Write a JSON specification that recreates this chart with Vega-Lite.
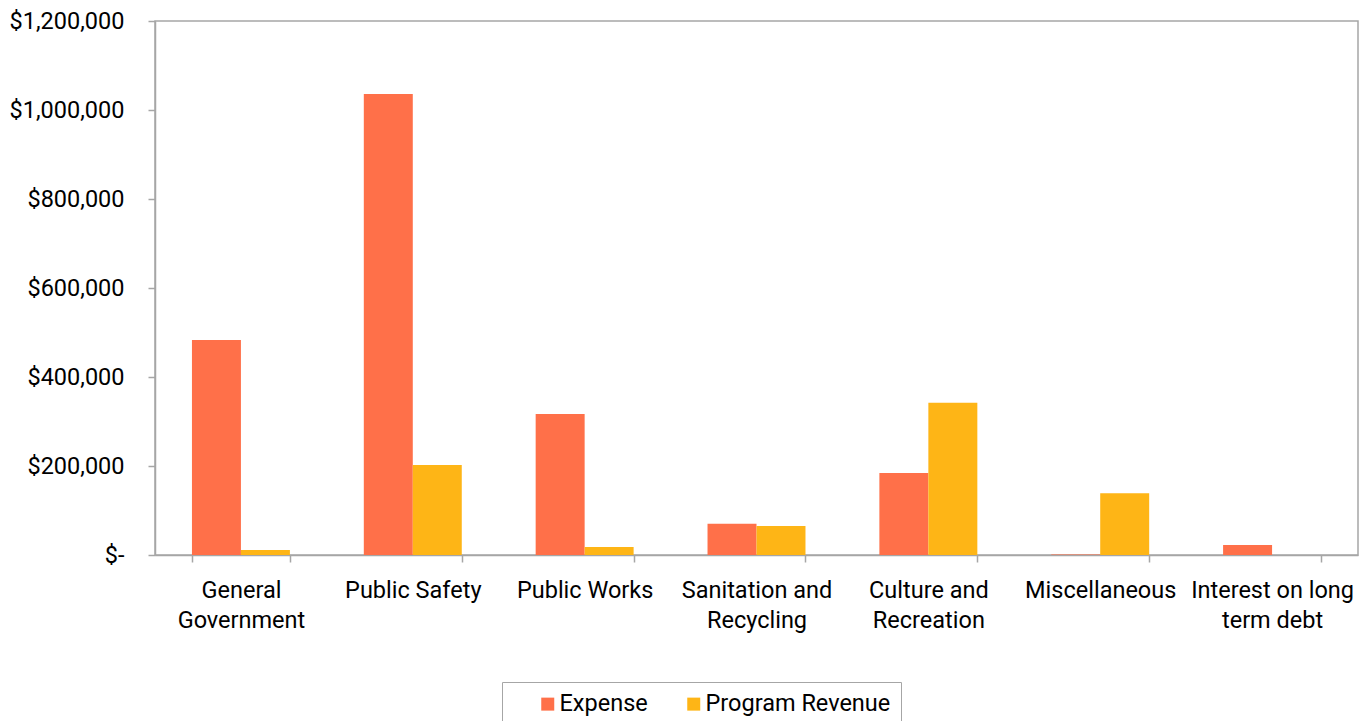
{
  "$schema": "https://vega.github.io/schema/vega-lite/v6.json",
  "width": 1203,
  "height": 534,
  "padding": {"left": 9, "top": 9, "right": 15, "bottom": 0},
  "background": "white",
  "config": {
    "font": "Roboto",
    "view": {"stroke": "#A6A6A6", "strokeWidth": 1.5}
  },
  "data": {
    "values": [
      {"category": "General|Government", "series": "Expense", "amount": 483000},
      {"category": "General|Government", "series": "Program Revenue", "amount": 11000},
      {"category": "Public Safety", "series": "Expense", "amount": 1036000},
      {"category": "Public Safety", "series": "Program Revenue", "amount": 202000},
      {"category": "Public Works", "series": "Expense", "amount": 317000},
      {"category": "Public Works", "series": "Program Revenue", "amount": 18000},
      {"category": "Sanitation and|Recycling", "series": "Expense", "amount": 70000},
      {"category": "Sanitation and|Recycling", "series": "Program Revenue", "amount": 65000},
      {"category": "Culture and|Recreation", "series": "Expense", "amount": 184000},
      {"category": "Culture and|Recreation", "series": "Program Revenue", "amount": 342000},
      {"category": "Miscellaneous", "series": "Expense", "amount": 1000},
      {"category": "Miscellaneous", "series": "Program Revenue", "amount": 139000},
      {"category": "Interest on long|term debt", "series": "Expense", "amount": 22500},
      {"category": "Interest on long|term debt", "series": "Program Revenue", "amount": 0}
    ]
  },
  "mark": {"type": "bar"},
  "encoding": {
    "x": {
      "field": "category",
      "type": "nominal",
      "sort": null,
      "scale": {"paddingInner": 0.43, "paddingOuter": 0.215},
      "axis": {
        "title": null,
        "labelAngle": 0,
        "labelExpr": "split(datum.label, '|')",
        "labelFontSize": 23.5,
        "labelColor": "#000000",
        "labelLineHeight": 30,
        "labelLimit": 300,
        "labelPadding": 16,
        "tickBand": "extent",
        "tickSize": 7,
        "tickWidth": 1.5,
        "tickColor": "#A6A6A6",
        "domainColor": "#A6A6A6",
        "domainWidth": 1.5,
        "grid": false
      }
    },
    "xOffset": {"field": "series", "type": "nominal", "sort": ["Expense", "Program Revenue"]},
    "y": {
      "field": "amount",
      "type": "quantitative",
      "scale": {"domain": [0, 1200000], "nice": false},
      "axis": {
        "title": null,
        "values": [0, 200000, 400000, 600000, 800000, 1000000, 1200000],
        "labelExpr": "datum.value == 0 ? '$-' : '$' + format(datum.value, ',')",
        "labelFontSize": 23.5,
        "labelColor": "#000000",
        "labelPadding": 24,
        "tickSize": 7,
        "tickWidth": 1.5,
        "tickColor": "#A6A6A6",
        "domainColor": "#A6A6A6",
        "domainWidth": 1.5,
        "grid": false
      }
    },
    "color": {
      "field": "series",
      "type": "nominal",
      "scale": {"domain": ["Expense", "Program Revenue"], "range": ["#FF7049", "#FEB516"]},
      "legend": {
        "title": null,
        "orient": "none",
        "legendX": 347,
        "legendY": 661,
        "direction": "horizontal",
        "strokeColor": "#A6A6A6",
        "padding": 10,
        "symbolType": "square",
        "symbolSize": 169,
        "symbolStrokeWidth": 0,
        "symbolOffset": 24,
        "labelFontSize": 23.5,
        "labelColor": "#000000",
        "labelOffset": 0,
        "labelLimit": 400,
        "columnPadding": 10
      }
    }
  }
}
